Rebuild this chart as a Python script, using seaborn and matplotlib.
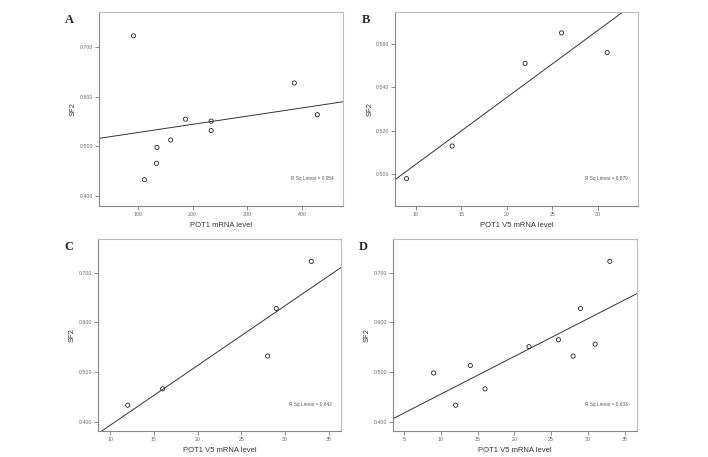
import numpy as np
import pandas as pd
import matplotlib
matplotlib.use('Agg')
import matplotlib.pyplot as plt
import seaborn as sns

# values
pot1_a = [92, 112, 134, 135, 160, 187, 234, 234, 386, 428]
sf2_a = [0.723, 0.433, 0.466, 0.498, 0.513, 0.555, 0.551, 0.532, 0.628, 0.564]

v5_b = [9, 14, 22, 26, 31]
sf2_b = [0.498, 0.513, 0.551, 0.565, 0.556]

v5_c = [12, 16, 28, 29, 33]
sf2_c = [0.433, 0.466, 0.532, 0.628, 0.723]

v5_d = [9, 12, 14, 16, 22, 26, 28, 29, 31, 33]
sf2_d = [0.498, 0.433, 0.513, 0.466, 0.551, 0.565, 0.532, 0.628, 0.556, 0.723]

panel_letters = ['A', 'B', 'C', 'D']
x_labels = ['POT1 mRNA level', 'POT1 V5 mRNA level', 'POT1 V5 mRNA level', 'POT1 V5 mRNA level']
r2_texts = ['R Sq Linear = 0.054', 'R Sq Linear = 0.879', 'R Sq Linear = 0.842', 'R Sq Linear = 0.633']

sns.set_style('ticks')
plt.rcParams['font.family'] = ['Liberation Sans', 'DejaVu Sans']

fig = plt.figure(figsize=(7.08, 4.57), dpi=100)

# panel setup: axes rect, x limits, y limits, x ticks, y ticks
panels = [
    (pot1_a, sf2_a, [0.1398, 0.5492, 0.3447, 0.4245], (29, 475), (0.380, 0.771),
     [100, 200, 300, 400], [0.4, 0.5, 0.6, 0.7]),
    (v5_b, sf2_b, [0.558, 0.5492, 0.343, 0.4245], (7.74, 34.37), (0.4854, 0.5746),
     [10, 15, 20, 25, 30], [0.50, 0.52, 0.54, 0.56]),
    (v5_c, sf2_c, [0.1384, 0.0569, 0.3432, 0.4201], (8.6, 36.4), (0.381, 0.768),
     [10, 15, 20, 25, 30, 35], [0.4, 0.5, 0.6, 0.7]),
    (v5_d, sf2_d, [0.555, 0.0569, 0.3447, 0.4201], (3.46, 36.7), (0.381, 0.768),
     [5, 10, 15, 20, 25, 30, 35], [0.4, 0.5, 0.6, 0.7]),
]

for i, (xs, ys, rect, xlim, ylim, xt, yt) in enumerate(panels):
    ax = fig.add_axes(rect)
    ax.set_xlim(*xlim)
    ax.set_ylim(*ylim)
    df = pd.DataFrame({'x': xs, 'y': ys})
    # fitted line across the full axis width, like SPSS
    sns.regplot(data=df, x='x', y='y', ax=ax, ci=None, truncate=False,
                scatter=False, line_kws={'color': '#333333', 'lw': 0.7})
    sns.scatterplot(data=df, x='x', y='y', ax=ax, marker='o', s=9,
                    facecolor='none', edgecolor='#222222', linewidth=0.6)
    ax.set_xlim(*xlim)
    ax.set_ylim(*ylim)
    ax.set_xticks(xt)
    ax.set_yticks(yt)
    ax.set_xticklabels([str(t) for t in xt])
    ax.set_yticklabels([f'{t:.3f}' for t in yt])
    ax.tick_params(axis='both', labelsize=3.8, labelcolor='#666666', color='#777777',
                   length=3, width=0.6, pad=1)
    for side in ['left', 'bottom']:
        ax.spines[side].set_color('#888888')
        ax.spines[side].set_linewidth(0.8)
    for side in ['top', 'right']:
        ax.spines[side].set_visible(True)
        ax.spines[side].set_color('#bbbbbb')
        ax.spines[side].set_linewidth(0.8)
    ax.set_xlabel(x_labels[i], fontsize=5.5, color='#333333', labelpad=4)
    ax.set_ylabel('SF2', fontsize=5.5, color='#333333', labelpad=2)
    ax.text(0.96, 0.14, r2_texts[i], transform=ax.transAxes, ha='right', va='center',
            fontsize=3.4, color='#555555')
    ax.text(-0.12, 0.99, panel_letters[i], transform=ax.transAxes, ha='center', va='top',
            fontsize=9, fontweight='bold', family='Liberation Serif')

fig.savefig('out.png', dpi=100)
